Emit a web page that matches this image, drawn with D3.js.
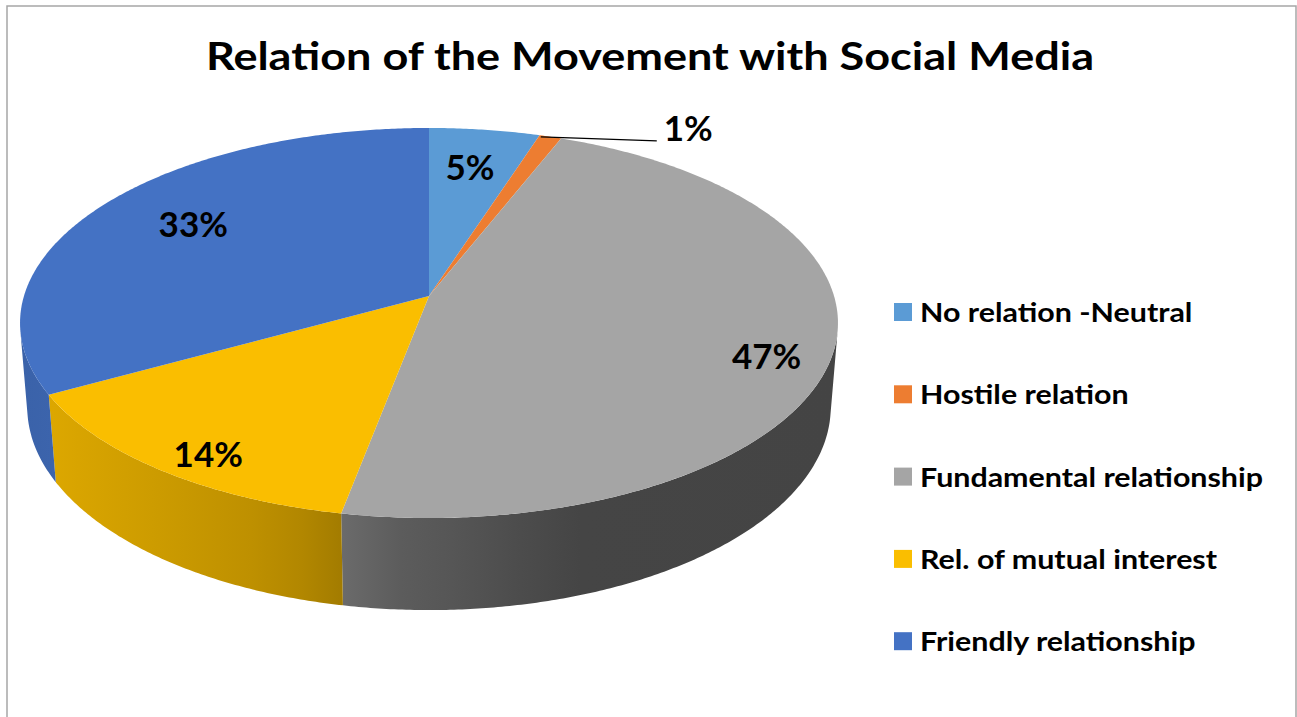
<!DOCTYPE html>
<html><head><meta charset="utf-8">
<script src="https://cdn.jsdelivr.net/npm/d3@7"></script>
<style>
html,body{margin:0;padding:0;background:#fff;}
svg{display:block;}
text{font-family:Lato,"Open Sans",sans-serif;font-weight:700;fill:#000;}
</style></head><body>
<svg id="chart" width="1297" height="717"></svg>
<script>
// ---- data ----
const chartTitle = "Relation of the Movement with Social Media";
const categories = ["No relation -Neutral", "Hostile relation", "Fundamental relationship", "Rel. of mutual interest", "Friendly relationship"];
const shares = [5, 1, 47, 14, 33];
const percentLabels = ["5%", "1%", "47%", "14%", "33%"];
const sliceColors = ["#5b9bd5", "#ed7d31", "#a5a5a5", "#fabe00", "#4472c4"];

// ---- layout ----
const W = 1297, H = 717;
const svg = d3.select("#chart");

// widen a text element horizontally by a factor (Calibri-like proportions)
function widen(sel, k) {
  const w = sel.node().getComputedTextLength();
  sel.attr("textLength", w * k).attr("lengthAdjust", "spacingAndGlyphs");
  return sel;
}

// chart frame
svg.append("rect").attr("x", 7).attr("y", 6).attr("width", 1289).attr("height", H)
  .attr("fill", "none").attr("stroke", "#a6a6a6").attr("stroke-width", 1.5);

// title
widen(svg.append("text").attr("x", 650).attr("y", 70).attr("text-anchor", "middle")
  .style("font-size", "39px").text(chartTitle), 1.155);

// perspective camera looking down on a unit-radius disc
const cam = {cx: 429, cy: 296, f: 2580, dist: 6.37, tilt: Math.asin(0.4723), thick: 0.2377};
const sa = Math.sin(cam.tilt), ca = Math.cos(cam.tilt);
function project(theta, r, z) {
  const X = r * Math.sin(theta), Y = r * Math.cos(theta);
  const v = Y * sa + z * ca;
  const d = cam.dist + Y * ca - z * sa;
  return [cam.cx + cam.f * X / d, cam.cy - cam.f * v / d];
}
function rim(a0, a1, z) {
  const n = Math.max(2, Math.ceil(Math.abs(a1 - a0) / (Math.PI / 360)));
  return d3.range(n + 1).map(i => project(a0 + (a1 - a0) * i / n, 1, z));
}

const pie = d3.pie().sort(null).value(d => d.value).startAngle(0).endAngle(2 * Math.PI);
const slices = pie(categories.map((c, i) => ({name: c, value: shares[i], color: sliceColors[i], label: percentLabels[i]})));

// horizontal shading of the side wall (screen x -> brightness)
const outline = rim(0, 2 * Math.PI, 0);
const xLeft = d3.min(outline, p => p[0]), xRight = d3.max(outline, p => p[0]);
const shadeStops = [[0, 0.86], [0.039, 0.88], [0.161, 0.82], [0.283, 0.76], [0.344, 0.71], [0.393, 0.65],
                    [0.466, 0.56], [0.527, 0.52], [0.612, 0.46], [0.685, 0.42], [1, 0.41]];
const defs = svg.append("defs");
slices.forEach((s, i) => {
  const g = defs.append("linearGradient").attr("id", "wall" + i)
    .attr("gradientUnits", "userSpaceOnUse")
    .attr("x1", xLeft).attr("x2", xRight).attr("y1", 0).attr("y2", 0);
  const base = d3.rgb(s.data.color);
  shadeStops.forEach(([o, k]) => {
    g.append("stop").attr("offset", o).attr("stop-color", d3.rgb(base.r * k, base.g * k, base.b * k).formatHex());
  });
});

const line = d3.line();
const plot = svg.append("g");

// side walls: only the part facing the camera
const visA = Math.acos(-1 / (cam.dist * ca)), visB = 2 * Math.PI - visA;
slices.forEach((s, i) => {
  const a0 = Math.max(s.startAngle, visA), a1 = Math.min(s.endAngle, visB);
  if (a1 <= a0) return;
  const pts = rim(a0, a1, 0).concat(rim(a1, a0, -cam.thick));
  plot.append("path").attr("d", line(pts) + "Z").attr("fill", `url(#wall${i})`);
});

// top faces
slices.forEach(s => {
  const pts = [project(0, 0, 0)].concat(rim(s.startAngle, s.endAngle, 0));
  plot.append("path").attr("d", line(pts) + "Z").attr("fill", s.data.color);
});

// value labels
const labelSize = 35;
slices.forEach(s => {
  const m = (s.startAngle + s.endAngle) / 2;
  if (s.data.value < 3) {
    // small slice: callout with leader line
    const p = project(s.startAngle + 0.1 * (s.endAngle - s.startAngle), 0.99, 0);
    const q = [p[0] + 116, p[1] + 4];
    plot.append("path").attr("d", line([p, q])).attr("stroke", "#000").attr("stroke-width", 1.2).attr("fill", "none");
    plot.append("text").attr("x", q[0] + 7).attr("y", q[1]).style("font-size", labelSize + "px").text(s.data.label);
    return;
  }
  const front = Math.cos(m) < 0;
  const p = project(m, front ? 0.84 : 0.71, 0);
  let y = p[1] - (front ? 0 : 6);
  if (front) y += 0.16 * (project(m, 1, -cam.thick)[1] - project(m, 1, 0)[1]);
  plot.append("text").attr("x", p[0]).attr("y", y + 0.36 * labelSize)
    .attr("text-anchor", "middle").style("font-size", labelSize + "px").text(s.data.label);
});

// legend
const legend = svg.append("g").attr("transform", "translate(894,303)");
const rowStep = 82.3;
categories.forEach((c, i) => {
  const row = legend.append("g").attr("transform", `translate(0,${i * rowStep})`);
  row.append("rect").attr("width", 18).attr("height", 18).attr("fill", sliceColors[i]);
  widen(row.append("text").attr("x", 26).attr("y", 19).style("font-size", "27px").text(c), 1.126);
});
</script>
</body></html>
